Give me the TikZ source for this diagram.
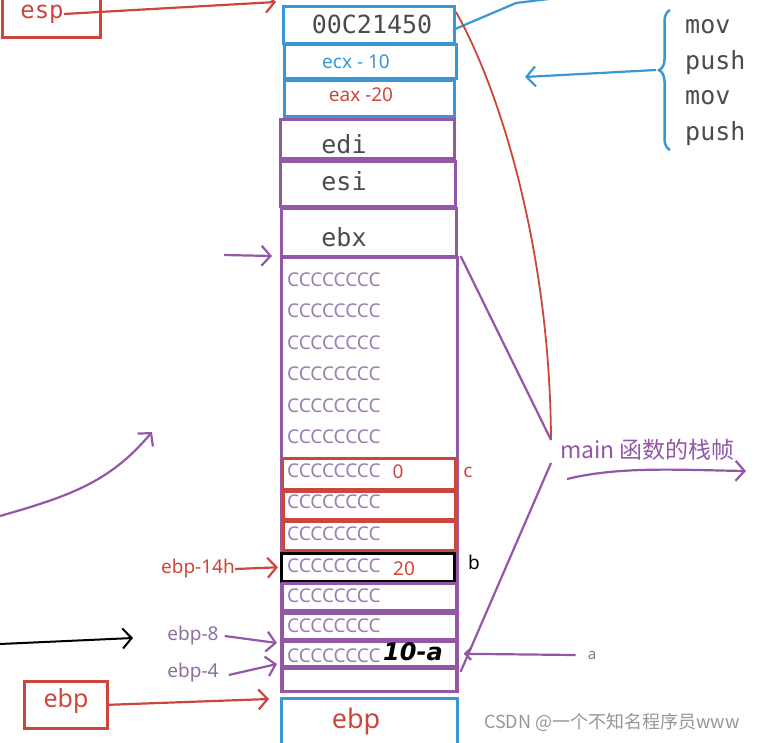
\documentclass[tikz,border=0pt]{standalone}
\usepackage{fontspec}
\setmainfont{Noto Sans}
\newfontfamily\monof{DejaVu Sans Mono}
\newfontfamily\handf{DejaVu Sans}
\newfontfamily\cjkf{Noto Sans CJK SC}
\usetikzlibrary{arrows.meta,decorations.pathreplacing}
\definecolor{cred}{RGB}{205,70,60}
\definecolor{cblue}{RGB}{58,150,214}
\definecolor{cpur}{RGB}{146,88,166}
\definecolor{cctext}{RGB}{155,125,178}
\definecolor{clab}{RGB}{140,112,160}
\definecolor{cgray}{RGB}{75,75,75}
\definecolor{cwm}{RGB}{150,150,150}
\newcommand\fsz[1]{\fontsize{#1}{#1}\selectfont}
\tikzset{
  bx/.style={draw, line width=2.6pt, anchor=north west, inner sep=0pt},
  bluebox/.style={bx, draw=cblue},
  purbox/.style={bx, draw=cpur},
  redbox/.style={bx, draw=cred},
  blkbox/.style={bx, draw=black},
  txt/.style={inner sep=0pt},
  ctext/.style={txt, anchor=west, text=cctext, font=\fsz{19}},
  mono/.style={txt, font=\monof\fsz{25}, text=cgray},
  lab/.style={txt, font=\fsz{19}},
  harrow/.style={-{Straight Barb[length=9pt,width=20pt]}, line width=2.2pt},
  hline/.style={line width=2.2pt},
}
\begin{document}
\begin{tikzpicture}[x=1pt,y=-1pt]
\useasboundingbox (0,0) rectangle (770,743);
% big frame
\node[purbox, minimum width=176pt, minimum height=434pt] (big) at (280,256) {};
% top blue boxes
\node[bluebox, minimum width=171pt, minimum height=37pt] (b1) at (282,5) {};
\node[bluebox, minimum width=172pt, minimum height=34pt] (b2) at (283,43) {};
\node[bluebox, minimum width=170pt, minimum height=36pt] (b3) at (283,79) {};
% register boxes
\node[purbox, minimum width=174pt, minimum height=39pt] (p1) at (279,118) {};
\node[purbox, minimum width=175pt, minimum height=45pt] (p2) at (279,160) {};
\node[purbox, minimum width=175pt, minimum height=48pt] (p3) at (280,207) {};
% local variable boxes
\node[redbox, minimum width=173pt, minimum height=31pt] (r1) at (281,457) {};
\node[redbox, minimum width=172pt, minimum height=28pt] (r2) at (282,490) {};
\node[redbox, minimum width=172pt, minimum height=29pt] (r3) at (282,520) {};
\node[blkbox, minimum width=173pt, minimum height=28pt] (k1) at (280,552) {};
\node[purbox, minimum width=174pt, minimum height=27pt] (q1) at (281,582) {};
\node[purbox, minimum width=174pt, minimum height=26pt] (q2) at (281,612) {};
\node[purbox, minimum width=174pt, minimum height=25pt] (q3) at (281,640) {};
\node[purbox, minimum width=174pt, minimum height=23pt] (q4) at (281,667) {};
\node[bluebox, minimum width=176pt, minimum height=50pt] (e1) at (280,697) {};
% texts in boxes
\node[mono] (t1) at (372,24) {00C21450};
\node[lab, text=cblue] (t2) at (356,62) {ecx - 10};
\node[lab, text=cred] (t3) at (361,95) {eax -20};
\node[mono] (t4) at (344,144) {edi};
\node[mono] (t5) at (344,181) {esi};
\node[mono] (t6) at (344,237) {ebx};
\node[ctext] (c1) at (287,280) {CCCCCCCC};
\node[ctext] (c2) at (287,311) {CCCCCCCC};
\node[ctext] (c3) at (287,343) {CCCCCCCC};
\node[ctext] (c4) at (287,374) {CCCCCCCC};
\node[ctext] (c5) at (287,406) {CCCCCCCC};
\node[ctext] (c6) at (287,437) {CCCCCCCC};
\node[ctext] (c7) at (287,471) {CCCCCCCC};
\node[ctext] (c8) at (287,502) {CCCCCCCC};
\node[ctext] (c9) at (287,534) {CCCCCCCC};
\node[ctext] (c10) at (287,566) {CCCCCCCC};
\node[ctext] (c11) at (287,596) {CCCCCCCC};
\node[ctext] (c12) at (287,626) {CCCCCCCC};
\node[ctext] (c13) at (287,656) {CCCCCCCC};
\node[lab, text=cred] (v0) at (398,472) {0};
\node[lab, text=cred] (v20) at (404,569) {20};
\node[txt, anchor=west, font=\handf\bfseries\itshape\fsz{24}, text=black] (v10) at (383,652) {10-a};
\node[lab, text=cred] (lc) at (468,472) {c};
\node[lab, text=black] (lb) at (474,562) {b};
\node[txt, font=\bfseries\fsz{15}, text=clab] (la) at (592,655) {a};
\node[txt, font=\fsz{27}, text=cred] (t7) at (356,721) {ebp};
% left side
\node[redbox, minimum width=98pt, minimum height=40pt] (espbox) at (1,-4) {};
\node[txt, font=\monof\fsz{24}, text=cred] (esp) at (42,14) {esp};
\coordinate (espend) at (276,2);
\draw[cred, harrow] (esp.east) -- (espend);
\coordinate (ebxs) at (224,255);
\draw[cpur, harrow] (ebxs) -- ([xshift=-8pt]big.north west);
\coordinate (lc0) at (0,516);
\coordinate (lc1) at (152,432);
\draw[cpur, harrow] (lc0) .. controls (70,496) and (110,482) .. (lc1);
\node[lab, text=cred] (l14) at (198,569) {ebp-14h};
\draw[cred, harrow] (l14.east) -- ([xshift=-2pt]k1.west);
\coordinate (bk0) at (0,644);
\coordinate (bk1) at (133,638);
\draw[black, harrow, line width=2pt] (bk0) -- (bk1);
\node[lab, text=clab] (l8) at (193,636) {ebp-8};
\draw[cpur, harrow] ([xshift=6pt]l8.east) -- ([xshift=-4pt,yshift=-3pt]q3.north west);
\node[lab, text=clab] (l4) at (193,673) {ebp-4};
\draw[cpur, harrow] ([xshift=10pt,yshift=-2pt]l4.east) -- ([xshift=-4pt,yshift=3pt]q4.north west);
\node[redbox, minimum width=83pt, minimum height=47pt] (ebpbox) at (23,680) {};
\node[txt, font=\fsz{25}, text=cred] (ebpt) at (66,701) {ebp};
\coordinate (ebpend) at (269,699);
\draw[cred, harrow] (ebpbox.east) -- (ebpend);
% right side
\coordinate (bl1) at (516,3);
\coordinate (bl2) at (590,-6);
\draw[cblue, hline] ([yshift=-4pt]b1.east) -- (bl1) -- (bl2);
\coordinate (rtop) at (456,12);
\coordinate (mtip) at (551,440);
\draw[cred, line width=1.8pt] (rtop) .. controls (500,90) and (550,250) .. (mtip);
\draw[cpur, hline] ([xshift=2pt]big.north east) -- (mtip);
\node[txt, anchor=west, font=\cjkf\fsz{23}, text=cpur] (mainl) at (560,450) {main 函数的栈帧};
\coordinate (mlow) at (551,463);
\draw[cpur, hline] (mlow) -- ([xshift=3pt,yshift=8pt]q4.east);
\coordinate (ma0) at (567,479);
\coordinate (ma1) at (746,471);
\draw[cpur, harrow] (ma0) .. controls (620,466) and (680,470) .. (ma1);
\draw[cpur, hline, -{Straight Barb[length=6pt,width=12pt]}] ([xshift=-12pt]la.west) -- ([xshift=6pt]q3.east);
% brace and instructions
\coordinate (brB) at (670,150);
\coordinate (brT) at (670,10);
\draw[cblue, line width=2.5pt, decorate, decoration={brace, amplitude=11pt, aspect=0.57}] (brB) -- (brT);
\coordinate (brtip) at (656,70);
\coordinate (barend) at (525,77);
\draw[cblue, harrow] (brtip) -- (barend);
\node[mono, anchor=west] (i1) at (685,27) {mov};
\node[mono, anchor=west] (i2) at (685,63) {push};
\node[mono, anchor=west] (i3) at (685,98) {mov};
\node[mono, anchor=west] (i4) at (685,134) {push};
% watermark
\node[txt, anchor=west, font=\cjkf\fsz{18}, text=cwm] (wm) at (484,722) {CSDN @一个不知名程序员www};
\end{tikzpicture}
\end{document}
